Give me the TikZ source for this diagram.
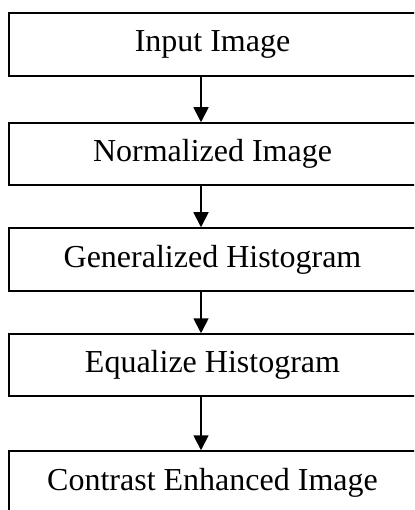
\documentclass[tikz,border=0pt]{standalone}
\usepackage{fontspec}
\setmainfont{Liberation Serif}
\usetikzlibrary{arrows.meta}
\begin{document}
\begin{tikzpicture}[x=1pt,y=-1pt,
  stepbox/.style={draw=black,line width=1.5pt,minimum width=407pt,inner sep=0pt,
    font=\fontsize{32}{36}\selectfont,anchor=center},
  arr/.style={line width=1.8pt,-{Triangle[width=15pt,length=15pt]}}]
\useasboundingbox (0,0) rectangle (414,510);
\clip (0,0) rectangle (414,510);
\fill[white] (0,0) rectangle (414,510);
\node[stepbox,minimum height=63pt] (b1) at (212.5,44.5) {Input Image};
\node[stepbox,minimum height=62pt] (b2) at (212.5,154) {Normalized Image};
\node[stepbox,minimum height=63pt] (b3) at (212.5,259.5) {Generalized Histogram};
\node[stepbox,minimum height=62pt] (b4) at (212.5,365) {Equalize Histogram};
\node[stepbox,minimum height=63pt] (b5) at (212.5,482.5) {Contrast Enhanced Image};
\draw[arr] (b1.south -| 201,0) -- (b2.north -| 201,0);
\draw[arr] (b2.south -| 201,0) -- (b3.north -| 201,0);
\draw[arr] (b3.south -| 201,0) -- (b4.north -| 201,0);
\draw[arr] (b4.south -| 201,0) -- (b5.north -| 201,0);
\end{tikzpicture}
\end{document}
